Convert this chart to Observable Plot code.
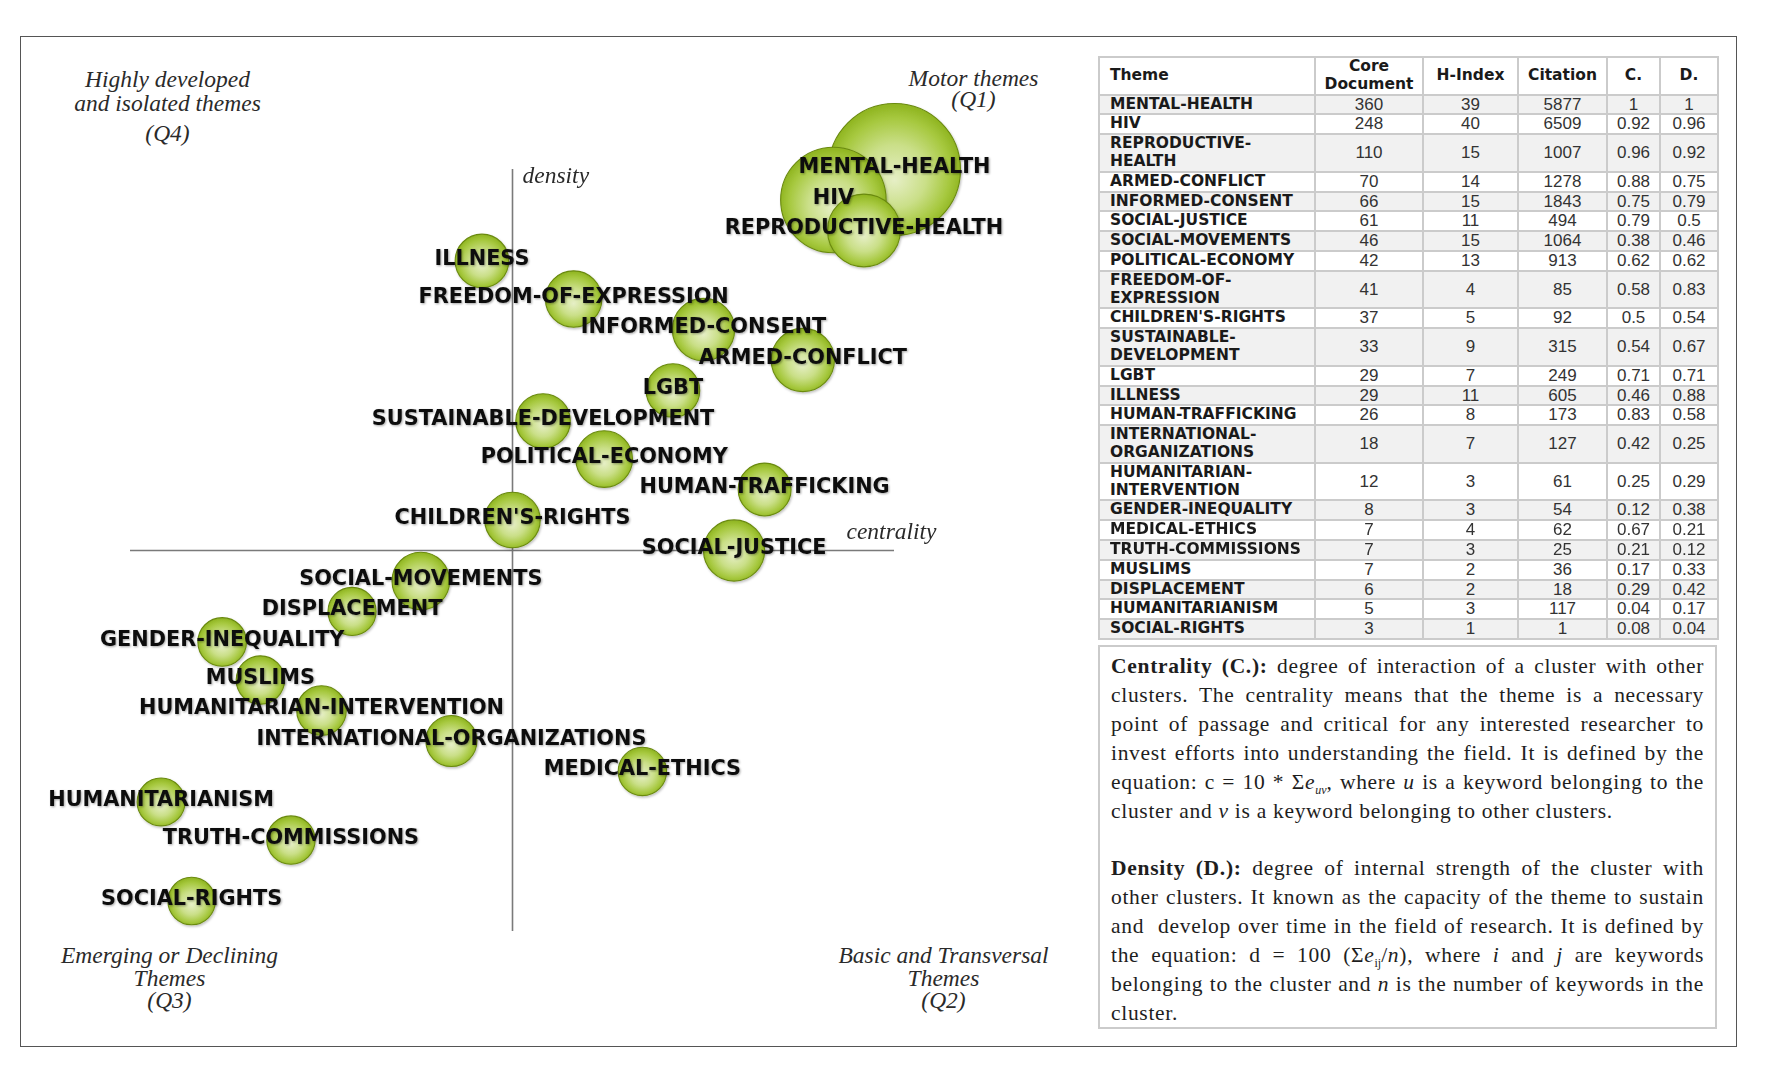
<!DOCTYPE html>
<html><head><meta charset="utf-8">
<script src="https://cdn.jsdelivr.net/npm/d3@7"></script>
<script src="https://cdn.jsdelivr.net/npm/@observablehq/plot@0.6"></script>
<style>
html,body{margin:0;padding:0;background:#fff}
body{width:1768px;height:1070px;position:relative;overflow:hidden}
#frame{position:absolute;left:20px;top:36px;width:1717px;height:1011px;border:1.5px solid #555;box-sizing:border-box}
#chart{position:absolute;left:20px;top:36px}
#tbl{position:absolute;left:1098px;top:56px;width:619px;border-collapse:collapse;table-layout:fixed}
#tbl td,#tbl th{border:2px solid #cbcbcb;padding:0 4px;line-height:17.8px;font-size:15.5px;color:#1a1a1a}
#tbl th{font-family:"DejaVu Sans",Verdana,sans-serif;font-weight:bold;text-align:center;background:#fff}
#tbl td.name{font-family:"DejaVu Sans",Verdana,sans-serif;font-weight:bold;text-align:left;padding-left:10px;white-space:nowrap;overflow:hidden}
#tbl td.num{font-family:"Liberation Sans Narrow","Liberation Sans",Arial,sans-serif;font-size:17px;text-align:center;color:#333}
#tbl tr.g td{background:#f1f1f1}
#note{position:absolute;left:1098px;top:645px;width:619px;height:384px;box-sizing:border-box;border:2px solid #cbcbcb;padding:5px 11px 0 11px;font-family:"Liberation Serif","Times New Roman",serif;font-size:21.5px;letter-spacing:0.7px;line-height:28.9px;color:#1e1e1e}
#note .ln{display:block;text-align:justify;text-align-last:justify}
#note .ln.last{text-align-last:left}
#note .gap{display:block;height:28.9px}
#note sub{font-size:12px;line-height:0;letter-spacing:0}
</style></head>
<body>
<svg width="0" height="0" style="position:absolute">
<defs>
<radialGradient id="bub" cx="50%" cy="52%" r="50%" fx="50%" fy="58%">
<stop offset="0%" stop-color="#e6efc6"/>
<stop offset="48%" stop-color="#cadf88"/>
<stop offset="84%" stop-color="#a6c83e"/>
<stop offset="100%" stop-color="#92b724"/>
</radialGradient>
<filter id="shd" x="-20%" y="-20%" width="140%" height="140%">
<feDropShadow dx="1" dy="1.5" stdDeviation="1.2" flood-color="#000" flood-opacity="0.25"/>
</filter>
<filter id="tshd" x="-5%" y="-30%" width="110%" height="160%">
<feDropShadow dx="1" dy="1" stdDeviation="0.9" flood-color="#000" flood-opacity="0.35"/>
</filter>
</defs>
</svg>
<div id="frame"></div>
<div id="chart"></div>
<table id="tbl"></table>
<div id="note">
<span class="ln"><b>Centrality (C.):</b> degree of interaction of a cluster with other</span>
<span class="ln">clusters. The centrality means that the theme is a necessary</span>
<span class="ln">point of passage and critical for any interested researcher to</span>
<span class="ln">invest efforts into understanding the field. It is defined by the</span>
<span class="ln">equation: c = 10 * Σ<i>e</i><sub><i>uv</i></sub>, where <i>u</i> is a keyword belonging to the</span>
<span class="ln last">cluster and <i>v</i> is a keyword belonging to other clusters.</span>
<span class="gap"></span>
<span class="ln"><b>Density (D.):</b> degree of internal strength of the cluster with</span>
<span class="ln">other clusters. It known as the capacity of the theme to sustain</span>
<span class="ln">and&nbsp; develop over time in the field of research. It is defined by</span>
<span class="ln">the equation: d = 100 (Σ<i>e</i><sub>ij</sub>/<i>n</i>), where <i>i</i> and <i>j</i> are keywords</span>
<span class="ln">belonging to the cluster and <i>n</i> is the number of keywords in the</span>
<span class="ln last">cluster.</span>
</div>
<script>
const themes = ["MENTAL-HEALTH","HIV","REPRODUCTIVE-HEALTH","ARMED-CONFLICT","INFORMED-CONSENT","SOCIAL-JUSTICE","SOCIAL-MOVEMENTS","POLITICAL-ECONOMY","FREEDOM-OF-EXPRESSION","CHILDREN'S-RIGHTS","SUSTAINABLE-DEVELOPMENT","LGBT","ILLNESS","HUMAN-TRAFFICKING","INTERNATIONAL-ORGANIZATIONS","HUMANITARIAN-INTERVENTION","GENDER-INEQUALITY","MEDICAL-ETHICS","TRUTH-COMMISSIONS","MUSLIMS","DISPLACEMENT","HUMANITARIANISM","SOCIAL-RIGHTS"];
const coreDocs = [360,248,110,70,66,61,46,42,41,37,33,29,29,26,18,12,8,7,7,7,6,5,3];
const hIndex = [39,40,15,14,15,11,15,13,4,5,9,7,11,8,7,3,3,4,3,2,2,3,1];
const citations = [5877,6509,1007,1278,1843,494,1064,913,85,92,315,249,605,173,127,61,54,62,25,36,18,117,1];
const centrality = [1,0.92,0.96,0.88,0.75,0.79,0.38,0.62,0.58,0.5,0.54,0.71,0.46,0.83,0.42,0.25,0.12,0.67,0.21,0.17,0.29,0.04,0.08];
const density = [1,0.96,0.92,0.75,0.79,0.5,0.46,0.62,0.83,0.54,0.67,0.71,0.88,0.58,0.25,0.29,0.38,0.21,0.12,0.33,0.42,0.17,0.04];
const headers = ["Theme","Core\nDocument","H-Index","Citation","C.","D."];
const quadQ4 = "Highly developed\nand isolated themes", quadQ4b = "(Q4)";
const quadQ1 = "Motor themes\n(Q1)";
const quadQ3 = "Emerging or Declining\nThemes\n(Q3)";
const quadQ2 = "Basic and Transversal\nThemes\n(Q2)";
const axisX = "centrality", axisY = "density";

const data = themes.map((t,i)=>({theme:t, core:coreDocs[i], c:centrality[i], d:density[i]}));

const serif = {fontFamily:"'Liberation Serif','Times New Roman',serif", fontStyle:"italic", fontSize:23.5, fill:"#2a2a2a"};

const plot = Plot.plot({
  width:1070, height:1010,
  marginLeft:110, marginRight:196, marginTop:133, marginBottom:115,
  x:{domain:[0,1], axis:null},
  y:{domain:[0,1], axis:null},
  r:{type:"linear", domain:[0,360], range:[23.35,66]},
  marks:[
    Plot.ruleX([0.5], {y1:0, y2:1, stroke:"#7a7a7a", strokeWidth:1.6}),
    Plot.ruleY([0.5], {x1:0, x2:1, stroke:"#7a7a7a", strokeWidth:1.6}),
    Plot.dot(data, {x:"c", y:"d", r:"core", fill:"url(#bub)", stroke:"#6a8a10", strokeWidth:1.1}),
    Plot.text(data, {x:"c", y:"d", text:"theme", dy:-3, fontFamily:"'DejaVu Sans',Verdana,sans-serif", fontWeight:"bold", fontSize:20.8, fill:"#111"}),
    Plot.text([quadQ4], {frameAnchor:"top-left", textAnchor:"middle", dx:37, dy:-78, lineAnchor:"middle", lineHeight:1.0, ...serif}),
    Plot.text([quadQ4b], {frameAnchor:"top-left", textAnchor:"middle", dx:37, dy:-36, lineAnchor:"middle", ...serif}),
    Plot.text([quadQ1], {frameAnchor:"top-right", textAnchor:"middle", dx:79, dy:-79.5, lineAnchor:"middle", lineHeight:0.9, ...serif}),
    Plot.text([quadQ3], {frameAnchor:"bottom-left", textAnchor:"middle", dx:39, dy:47, lineAnchor:"middle", lineHeight:0.94, ...serif}),
    Plot.text([quadQ2], {frameAnchor:"bottom-right", textAnchor:"middle", dx:49, dy:47, lineAnchor:"middle", lineHeight:0.94, ...serif}),
    Plot.text([axisY], {frameAnchor:"top", dx:10, dy:-3, textAnchor:"start", ...serif}),
    Plot.text([axisX], {frameAnchor:"right", dx:-48, dy:-19, textAnchor:"start", ...serif})
  ]
});
document.getElementById("chart").appendChild(plot);
const svg = d3.select(plot);
svg.selectAll("circle").attr("filter","url(#shd)");
svg.selectAll("g[aria-label='text']").filter((d,i)=>i===0).attr("filter","url(#tshd)");

// table
const tbl = d3.select("#tbl");
const cg = tbl.append("colgroup");
[216,108,95,89,53,58].forEach(w=>cg.append("col").style("width",w+"px"));
const hr = tbl.append("tr");
headers.forEach((h,i)=>{
  const th = hr.append("th").style("text-align", i===0?"left":"center").style("padding-left", i===0?"10px":null);
  h.split("\n").forEach((s,j)=>{ if(j) th.append("br"); th.append("span").text(s); });
});
themes.forEach((t,i)=>{
  const tr = tbl.append("tr").attr("class", i%2===0?"g":"");
  const td = tr.append("td").attr("class","name");
  if (t.length > 18) {
    const k = t.lastIndexOf("-");
    td.append("span").text(t.slice(0,k+1)); td.append("br"); td.append("span").text(t.slice(k+1));
  } else td.text(t);
  [coreDocs[i], hIndex[i], citations[i], centrality[i], density[i]].forEach(v=>tr.append("td").attr("class","num").text(String(v)));
});
</script>
</body></html>
